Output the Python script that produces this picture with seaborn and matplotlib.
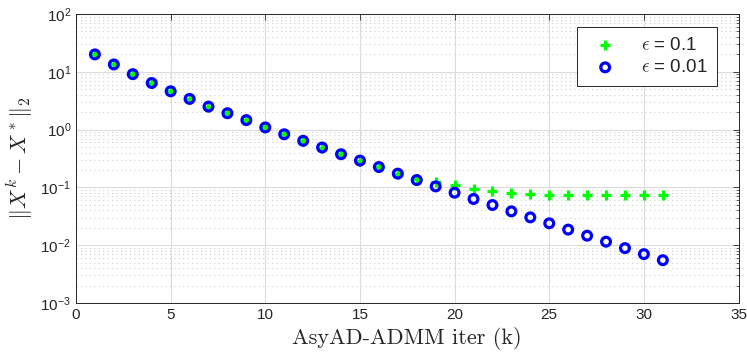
import numpy as np
import pandas as pd
import matplotlib
matplotlib.use("Agg")
import matplotlib.pyplot as plt
import matplotlib.ticker as mticker
import seaborn as sns

# iterations and errors
iters = list(range(1, 32))
err_eps01 = [20.0, 13.4, 9.1, 6.4, 4.6, 3.4, 2.5, 1.92, 1.46, 1.09,
             0.83, 0.64, 0.49, 0.375, 0.291, 0.225, 0.173, 0.137, 0.124, 0.112,
             0.095, 0.086, 0.081, 0.077, 0.075, 0.074, 0.0735, 0.073, 0.073, 0.0725,
             0.0725]
err_eps001 = [20.0, 13.4, 9.1, 6.4, 4.6, 3.4, 2.5, 1.92, 1.46, 1.09,
              0.83, 0.64, 0.49, 0.375, 0.291, 0.225, 0.173, 0.134, 0.104, 0.081,
              0.063, 0.0496, 0.0385, 0.0303, 0.0239, 0.0186, 0.0146, 0.0115, 0.0089, 0.0070,
              0.0055]
labels = [r"$\epsilon$ = 0.1", r"$\epsilon$ = 0.01"]

sns.set_style("white")
plt.rcParams["font.family"] = ["Liberation Sans", "DejaVu Sans"]
plt.rcParams["mathtext.fontset"] = "cm"

df = pd.DataFrame({"k": iters, "e1": err_eps01, "e2": err_eps001})

fig = plt.figure(figsize=(7.47, 3.61), dpi=100)
ax = fig.add_axes([0.1017, 0.1607, 0.887, 0.8005])

sns.scatterplot(data=df, x="k", y="e1", marker="+", color=(0, 1, 0), s=42,
                linewidth=2.3, label=labels[0], ax=ax, zorder=3)
sns.scatterplot(data=df, x="k", y="e2", marker="o", facecolor="none",
                edgecolor=(0, 0, 1), s=40, linewidth=2.3, label=labels[1], ax=ax, zorder=4)

ax.set_yscale("log")
ax.set_xlim(0, 35)
ax.set_ylim(1e-3, 1e2)
ax.set_xticks(range(0, 36, 5))
ax.yaxis.set_major_locator(mticker.LogLocator(base=10, numticks=10))
ax.yaxis.set_minor_locator(mticker.LogLocator(base=10, subs=np.arange(2, 10), numticks=20))
ax.yaxis.set_major_formatter(mticker.FuncFormatter(
    lambda v, p: r"$\mathregular{10^{%d}}$" % int(round(np.log10(v)))))
ax.yaxis.set_minor_formatter(mticker.NullFormatter())

ax.grid(True, which="major", color="#dcdcdc", linewidth=0.8, linestyle="-")
ax.grid(True, which="minor", axis="y", color="#d0d0d0", linewidth=0.8, linestyle=(0, (1, 3)))
ax.set_axisbelow(True)

ax.tick_params(axis="both", which="both", direction="in", top=True, right=True,
               labelsize=11, colors="#262626")
ax.tick_params(which="major", length=4, width=0.6)
ax.tick_params(which="minor", length=2.5, width=0.5)
for s in ax.spines.values():
    s.set_color("#262626")
    s.set_linewidth(0.7)

ax.set_xlabel("AsyAD-ADMM iter (k)", fontsize=16, family="cmr10", color="#262626")
ax.set_ylabel(r"$\Vert X^k - X^*\Vert_2$", fontsize=16, color="#262626", labelpad=4)

leg = ax.legend(loc="upper right", bbox_to_anchor=(0.967, 0.955), borderaxespad=0,
                fontsize=13.5, frameon=True, fancybox=False, framealpha=1,
                edgecolor="#262626", handletextpad=0.9, borderpad=0.5,
                labelspacing=0.3, handlelength=2.0)
leg.get_frame().set_linewidth(0.7)

plt.savefig("out.png", dpi=100)
